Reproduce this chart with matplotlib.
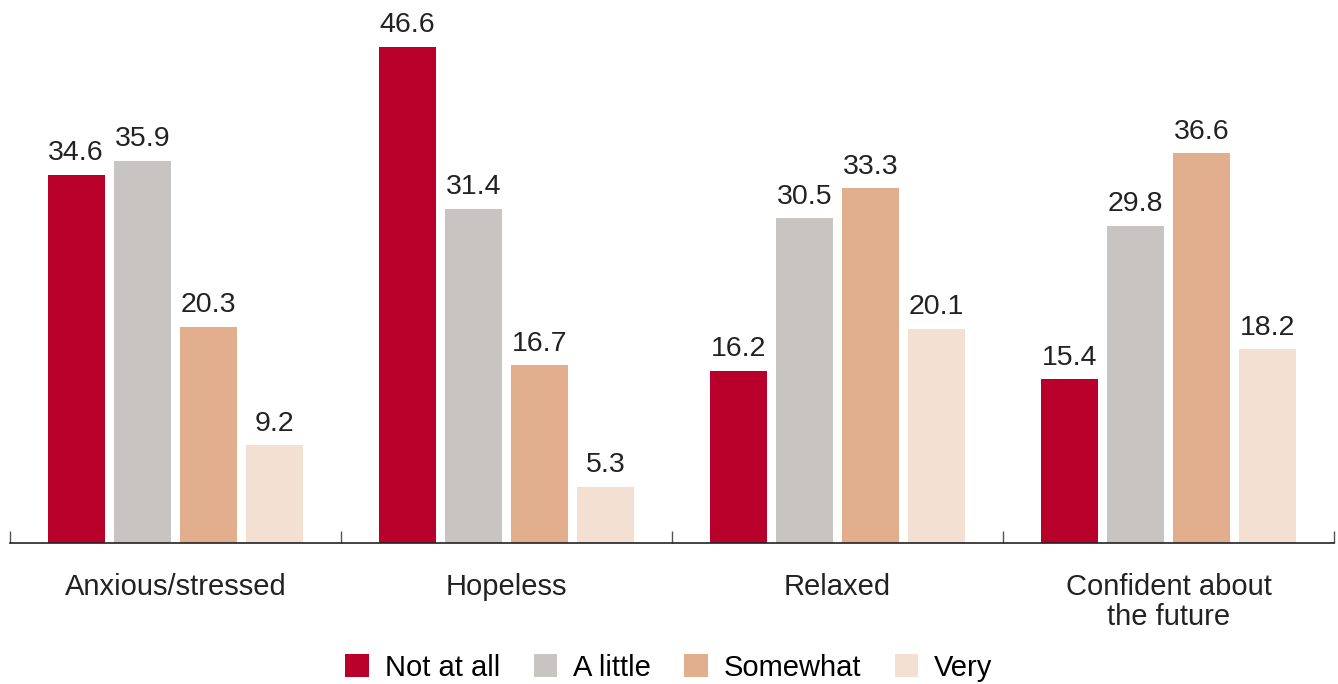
import numpy as np
import matplotlib.pyplot as plt

plt.rcParams['font.family'] = ['Liberation Sans', 'DejaVu Sans']

# Данные
categories = ['Anxious/stressed', 'Hopeless', 'Relaxed', 'Confident about\nthe future']
series = ['Not at all', 'A little', 'Somewhat', 'Very']
not_at_all = [34.6, 46.6, 16.2, 15.4]
a_little = [35.9, 31.4, 30.5, 29.8]
somewhat = [20.3, 16.7, 33.3, 36.6]
very = [9.2, 5.3, 20.1, 18.2]
colors = ['#B8002A', '#C8C4C1', '#E2AF8E', '#F3E0D3']

fig = plt.figure(figsize=(13.38, 6.84), dpi=100)
ax = fig.add_axes([10/1338, 141/684, 1324/1338, 543/684])

x = np.arange(len(categories))
width = 0.172
for i, (name, vals) in enumerate(zip(series, [not_at_all, a_little, somewhat, very])):
    pos = x + 0.2 * (i + 1)
    bars = ax.bar(pos, vals, width, color=colors[i], label=name)
    for b, v in zip(bars, vals):
        ax.text(b.get_x() + b.get_width() / 2, v + 0.8, f'{v:.1f}',
                ha='center', va='bottom', fontsize=20.5, color='#222222')

ax.set_xlim(0, 4)
ax.set_ylim(0, 51)

# Оси
for s in ['top', 'right', 'left']:
    ax.spines[s].set_visible(False)
ax.spines['bottom'].set_color('#222222')
ax.spines['bottom'].set_linewidth(1.2)
ax.set_yticks([])
ax.set_xticks([0, 1, 2, 3, 4])
ax.set_xticklabels([])
ax.tick_params(axis='x', direction='in', length=9, color='#555555', width=1)

for xi, c in zip(x, categories):
    ax.text(xi + 0.5, -2.8, c, ha='center', va='top', fontsize=21,
            color='#222222', linespacing=1.1)

fig.legend(loc='lower center', ncol=4, frameon=False, fontsize=21,
           bbox_to_anchor=(0.5, -0.035), handlelength=0.8, handleheight=0.8,
           handletextpad=0.55, columnspacing=1.15)

fig.savefig('out.png', dpi=100)
